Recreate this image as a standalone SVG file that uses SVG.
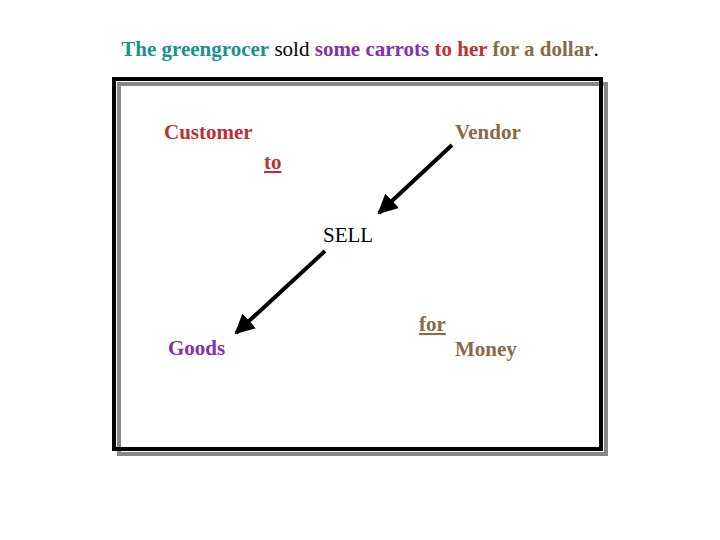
<svg xmlns="http://www.w3.org/2000/svg" width="720" height="540" viewBox="0 0 720 540">
<style>
text{font-family:"Liberation Serif",serif;font-size:21px;font-weight:bold}
.n{font-weight:normal}
.teal{fill:#1b918b}.pur{fill:#8430a8}.red{fill:#c03030}.brn{fill:#8a6a45}
</style>
<defs><marker id="ah" viewBox="0 0 10 10" refX="9" refY="5" markerWidth="5" markerHeight="5" orient="auto"><path d="M0,0L10,5L0,10z" fill="#000"/></marker></defs>
<rect width="720" height="540" fill="#fff"/>
<text x="360" y="56" text-anchor="middle"><tspan class="teal">The greengrocer</tspan><tspan class="n" fill="#000"> sold </tspan><tspan class="pur">some carrots</tspan><tspan class="red"> to her</tspan><tspan class="brn"> for a dollar</tspan><tspan class="n" fill="#000">.</tspan></text>
<rect x="119" y="84" width="487" height="370" fill="none" stroke="#888" stroke-width="4"/>
<rect x="114" y="79" width="487" height="370" fill="none" stroke="#000" stroke-width="4"/>
<g id="customer"><text x="164" y="139" class="red">Customer</text></g>
<g id="to"><text x="264" y="169" class="red" text-decoration="underline">to</text></g>
<g id="vendor"><text x="455" y="139" class="brn">Vendor</text></g>
<g id="sell"><text x="323" y="242" class="n" fill="#000">SELL</text></g>
<g id="goods"><text x="168" y="355" class="pur">Goods</text></g>
<g id="for"><text x="419" y="331" class="brn" text-decoration="underline">for</text></g>
<g id="money"><text x="455" y="356" class="brn">Money</text></g>
<g id="connectors" stroke="#000" stroke-width="4" marker-end="url(#ah)">
<line x1="452" y1="145" x2="379" y2="213"/>
<line x1="325" y1="251" x2="236" y2="333"/>
</g>
</svg>
